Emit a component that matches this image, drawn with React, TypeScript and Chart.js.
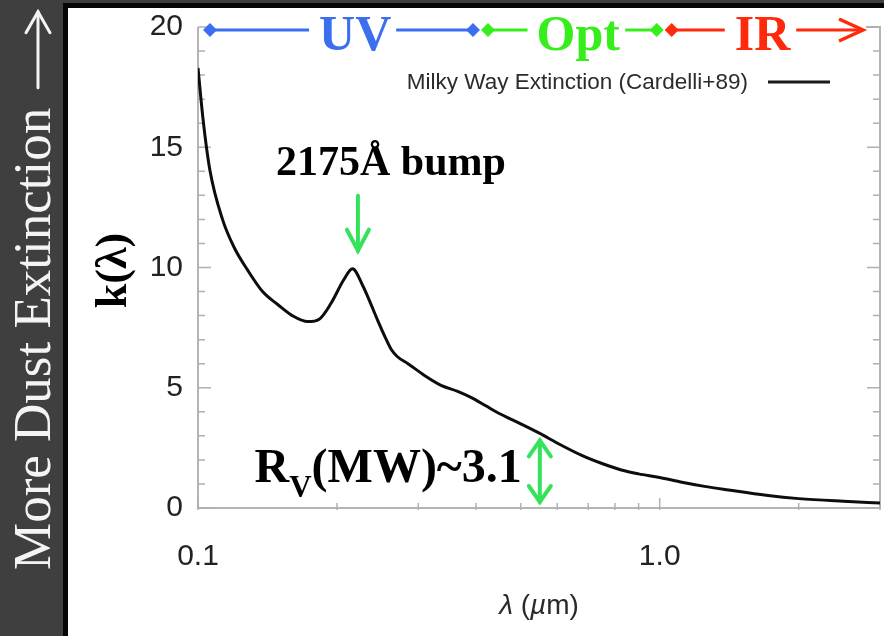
import { useEffect, useRef } from 'react';
import { Chart, registerables } from 'chart.js';

Chart.register(...registerables);

// Milky Way extinction curve k(λ), Cardelli, Clayton & Mathis (1989), R_V = 3.1
const WAVELENGTH_UM = [
  0.1, 0.1025, 0.106, 0.113, 0.12, 0.128, 0.138, 0.149, 0.16, 0.173, 0.183, 0.194,
  0.207, 0.216, 0.228, 0.236, 0.245, 0.255, 0.262, 0.27, 0.285, 0.31, 0.336, 0.365,
  0.39, 0.42, 0.447, 0.5, 0.55, 0.6, 0.676, 0.75, 0.826, 0.9, 1.0, 1.11, 1.25, 1.41,
  1.7, 2.0, 2.5, 3.0,
];
const K_LAMBDA = [
  18.3, 16.2, 14.1, 12.0, 10.8, 9.9, 9.0, 8.45, 8.0, 7.75, 7.85, 8.5,
  9.5, 9.95, 9.2, 8.55, 7.8, 7.05, 6.6, 6.3, 6.0, 5.5, 5.1, 4.85,
  4.6, 4.25, 3.95, 3.5, 3.1, 2.7, 2.2, 1.85, 1.58, 1.42, 1.27, 1.08, 0.9, 0.75,
  0.53, 0.39, 0.28, 0.21,
];

const SERIES_LABEL = 'Milky Way Extinction (Cardelli+89)';

const X_TICKS = [0.1, 0.2, 0.3, 0.4, 0.5, 0.6, 0.7, 0.8, 0.9, 1, 2, 3];
const X_MAJOR = [0.1, 1];
const X_TICK_LABELS = ['0.1', '', '', '', '', '', '', '', '', '1.0', '', ''];
const Y_TICKS = [0, 5, 10, 15, 20];
const Y_MINOR = [0, 1, 2, 3, 4, 5, 6, 7, 8, 9, 10, 11, 12, 13, 14, 15, 16, 17, 18, 19, 20];

// Spectral regions along the top of the plot
const BAND_NAMES = ['UV', 'Opt', 'IR'];
const BAND_EDGES_UM = [0.1, 0.4, 1.0, 3.0];
const BAND_LABEL_UM = [0.219, 0.666, 1.67];
const BAND_COLORS = ['#3b6ff0', '#36ee1c', '#ff2a0c'];

const BUMP_LABEL = '2175Å bump';
const BUMP_ARROW_UM = 0.222;
const BUMP_PEAK_K = 9.95;
const RV_ARROW_UM = 0.55;
const RV_VALUE = 3.1;

const SIDE_TEXT = 'More Dust Extinction';
const ARROW_GREEN = '#34e35a';

const SANS = '"Liberation Sans", Arial, sans-serif';
const SERIF = '"Liberation Serif", "Times New Roman", serif';

function chevron(ctx: CanvasRenderingContext2D, tx: number, ty: number, dx: number, dy: number, len: number, half: number) {
  const bx = tx - dx * len;
  const by = ty - dy * len;
  const px = -dy;
  const py = dx;
  ctx.beginPath();
  ctx.moveTo(bx + px * half, by + py * half);
  ctx.lineTo(tx, ty);
  ctx.lineTo(bx - px * half, by - py * half);
  ctx.stroke();
}

function diamond(ctx: CanvasRenderingContext2D, x: number, y: number, r: number) {
  ctx.beginPath();
  ctx.moveTo(x, y - r);
  ctx.lineTo(x + r, y);
  ctx.lineTo(x, y + r);
  ctx.lineTo(x - r, y);
  ctx.closePath();
  ctx.fill();
}

const decor = {
  id: 'decor',
  beforeDraw(chart: any) {
    const { ctx, width, height } = chart;
    ctx.save();
    ctx.fillStyle = '#3f3f3f';
    ctx.fillRect(0, 0, width, height);
    ctx.fillStyle = '#060606';
    ctx.fillRect(63, 3, width - 63, height - 3);
    ctx.fillStyle = '#ffffff';
    ctx.fillRect(68, 8, width - 68, height - 8);

    // side caption
    ctx.translate(50, 570);
    ctx.rotate(-Math.PI / 2);
    ctx.fillStyle = '#f4f4f4';
    ctx.font = `53px ${SERIF}`;
    ctx.textBaseline = 'alphabetic';
    ctx.fillText(SIDE_TEXT, 0, 0);
    const w = ctx.measureText(SIDE_TEXT).width;
    ctx.strokeStyle = '#f4f4f4';
    ctx.lineWidth = 3;
    ctx.lineCap = 'round';
    const a0 = w + 20;
    const a1 = w + 96;
    ctx.beginPath();
    ctx.moveTo(a0, -12);
    ctx.lineTo(a1, -12);
    ctx.stroke();
    chevron(ctx, a1, -12, 1, 0, 21, 12);
    ctx.restore();
  },
  beforeDatasetsDraw(chart: any) {
    const { ctx, chartArea: ca, scales } = chart;
    const xs = scales.x;
    const ys = scales.y;
    ctx.save();
    ctx.strokeStyle = '#b4b4b4';
    ctx.lineWidth = 2;
    ctx.beginPath();
    ctx.moveTo(ca.left, ca.top);
    ctx.lineTo(ca.left, ca.bottom);
    ctx.lineTo(ca.right, ca.bottom);
    ctx.lineTo(ca.right, ca.top);
    ctx.lineTo(ca.right - 14, ca.top);
    ctx.stroke();

    ctx.lineWidth = 1.5;
    ctx.strokeStyle = '#b0b0b0';
    for (const v of Y_MINOR) {
      const y = ys.getPixelForValue(v);
      const len = Y_TICKS.includes(v) ? 13 : 7;
      ctx.beginPath();
      ctx.moveTo(ca.left, y);
      ctx.lineTo(ca.left + len, y);
      ctx.moveTo(ca.right, y);
      ctx.lineTo(ca.right - len, y);
      ctx.stroke();
    }
    for (const v of X_TICKS) {
      const x = xs.getPixelForValue(v);
      const len = X_MAJOR.includes(v) ? 10 : 5;
      ctx.beginPath();
      ctx.moveTo(x, ca.bottom + 2);
      ctx.lineTo(x, ca.bottom - len);
      ctx.stroke();
    }

    // legend
    ctx.fillStyle = '#2b2b2b';
    ctx.font = `22.5px ${SANS}`;
    ctx.textAlign = 'right';
    ctx.textBaseline = 'alphabetic';
    ctx.fillText(SERIES_LABEL, 748, 89);
    ctx.strokeStyle = '#1a1a1a';
    ctx.lineWidth = 3;
    ctx.beginPath();
    ctx.moveTo(768, 82);
    ctx.lineTo(830, 82);
    ctx.stroke();
    ctx.restore();
  },
  afterDraw(chart: any) {
    const { ctx, chartArea: ca, scales } = chart;
    const xs = scales.x;
    const ys = scales.y;
    ctx.save();

    // spectral region bands
    const bandY = 30;
    ctx.font = `bold 50px ${SERIF}`;
    ctx.textAlign = 'center';
    ctx.textBaseline = 'alphabetic';
    ctx.lineWidth = 3;
    BAND_NAMES.forEach((name, i) => {
      const last = i === BAND_NAMES.length - 1;
      const x0 = xs.getPixelForValue(BAND_EDGES_UM[i]) + 12;
      const x1 = xs.getPixelForValue(BAND_EDGES_UM[i + 1]) - (last ? 17 : 3);
      const tc = xs.getPixelForValue(BAND_LABEL_UM[i]);
      const m = ctx.measureText(name);
      const tl = tc - m.actualBoundingBoxLeft;
      const tr = tc + m.actualBoundingBoxRight;
      ctx.strokeStyle = BAND_COLORS[i];
      ctx.fillStyle = BAND_COLORS[i];
      ctx.beginPath();
      ctx.moveTo(x0, bandY);
      ctx.lineTo(tl - 11, bandY);
      ctx.moveTo(tr + 5, bandY);
      ctx.lineTo(x1, bandY);
      ctx.stroke();
      diamond(ctx, x0, bandY, 7);
      if (last) {
        ctx.lineWidth = 3.5;
        chevron(ctx, x1, bandY, 1, 0, 24, 11);
        ctx.lineWidth = 3;
      } else {
        diamond(ctx, x1, bandY, 7);
      }
      ctx.fillText(name, tc, 50);
    });

    // 2175 Å bump annotation
    const bx = xs.getPixelForValue(BUMP_ARROW_UM);
    const tip = ys.getPixelForValue(BUMP_PEAK_K) - 18;
    ctx.strokeStyle = ARROW_GREEN;
    ctx.lineWidth = 4;
    ctx.lineCap = 'round';
    ctx.beginPath();
    ctx.moveTo(bx, tip - 55);
    ctx.lineTo(bx, tip);
    ctx.stroke();
    chevron(ctx, bx, tip, 0, 1, 21, 11);
    ctx.fillStyle = '#000';
    ctx.font = `bold 42px ${SERIF}`;
    ctx.textAlign = 'center';
    ctx.fillText(BUMP_LABEL, bx + 33, 175);

    // R_V annotation
    const rx = xs.getPixelForValue(RV_ARROW_UM);
    const top = ys.getPixelForValue(RV_VALUE) + 7;
    const bot = ys.getPixelForValue(0) - 6;
    ctx.strokeStyle = ARROW_GREEN;
    ctx.beginPath();
    ctx.moveTo(rx, top);
    ctx.lineTo(rx, bot);
    ctx.stroke();
    chevron(ctx, rx, top, 0, -1, 16, 11);
    chevron(ctx, rx, bot, 0, 1, 16, 11);

    ctx.textAlign = 'left';
    const big = `bold 48px ${SERIF}`;
    const small = `bold 31px ${SERIF}`;
    ctx.font = big;
    const wR = ctx.measureText('R').width;
    const wRest = ctx.measureText('(MW)~3.1').width;
    ctx.font = small;
    const wV = ctx.measureText('V').width;
    let tx = rx - 18 - (wR + wV + wRest);
    ctx.font = big;
    ctx.fillText('R', tx, 482);
    tx += wR;
    ctx.font = small;
    ctx.fillText('V', tx, 497);
    tx += wV;
    ctx.font = big;
    ctx.fillText('(MW)~3.1', tx, 482);

    // y-axis title
    ctx.save();
    ctx.translate(115, (ca.top + ca.bottom) / 2 + 3);
    ctx.rotate(-Math.PI / 2);
    ctx.font = `bold 44px ${SERIF}`;
    ctx.textAlign = 'center';
    ctx.textBaseline = 'middle';
    ctx.fillText('k(λ)', 0, 0);
    ctx.restore();

    // x-axis title: λ (µm)
    const parts: [string, boolean][] = [['λ', true], [' (', false], ['µ', true], ['m)', false]];
    const fontFor = (it: boolean) => `${it ? 'italic ' : ''}28px ${SANS}`;
    let total = 0;
    for (const [s, it] of parts) {
      ctx.font = fontFor(it);
      total += ctx.measureText(s).width;
    }
    let px = (ca.left + ca.right) / 2 - total / 2;
    ctx.fillStyle = '#2a2a2a';
    ctx.textAlign = 'left';
    ctx.textBaseline = 'alphabetic';
    for (const [s, it] of parts) {
      ctx.font = fontFor(it);
      ctx.fillText(s, px, 614);
      px += ctx.measureText(s).width;
    }
    ctx.restore();
  },
};

export default function App() {
  const ref = useRef<HTMLCanvasElement>(null);

  useEffect(() => {
    document.body.style.margin = '0';
    const chart = new Chart(ref.current as HTMLCanvasElement, {
      type: 'line',
      data: {
        datasets: [
          {
            label: SERIES_LABEL,
            data: WAVELENGTH_UM.map((w, i) => ({ x: w, y: K_LAMBDA[i] })),
            borderColor: '#0d0d0d',
            borderWidth: 3,
            pointRadius: 0,
            cubicInterpolationMode: 'monotone',
            fill: false,
          },
        ],
      },
      options: {
        animation: false,
        responsive: false,
        layout: { autoPadding: false, padding: { left: 0, top: 27, right: 4, bottom: 0 } },
        plugins: { legend: { display: false }, tooltip: { enabled: false } },
        scales: {
          x: {
            type: 'logarithmic',
            min: 0.1,
            max: 3,
            afterBuildTicks: (axis: any) => {
              axis.ticks = X_TICKS.map((v) => ({ value: v }));
            },
            afterFit: (axis: any) => {
              axis.height = 128;
              axis.paddingLeft = 0;
              axis.paddingRight = 0;
            },
            ticks: {
              autoSkip: false,
              maxRotation: 0,
              padding: 31,
              color: '#222',
              font: { family: SANS, size: 30 },
              callback: (v: any) => X_TICK_LABELS[X_TICKS.indexOf(Number(v))] ?? '',
            },
            grid: { display: false, drawTicks: false },
            border: { display: false },
          },
          y: {
            min: 0,
            max: 20,
            afterBuildTicks: (axis: any) => {
              axis.ticks = Y_TICKS.map((v) => ({ value: v }));
            },
            afterFit: (axis: any) => {
              axis.width = 198;
              axis.paddingTop = 0;
              axis.paddingBottom = 0;
            },
            ticks: {
              padding: 15,
              color: '#222',
              font: { family: SANS, size: 30 },
            },
            grid: { display: false, drawTicks: false },
            border: { display: false },
          },
        },
      },
      plugins: [decor],
    } as any);
    return () => chart.destroy();
  }, []);

  return (
    <div style={{ position: 'fixed', left: 0, top: 0, width: 884, height: 636 }}>
      <canvas ref={ref} width={884} height={636} style={{ display: 'block', width: 884, height: 636 }} />
    </div>
  );
}
